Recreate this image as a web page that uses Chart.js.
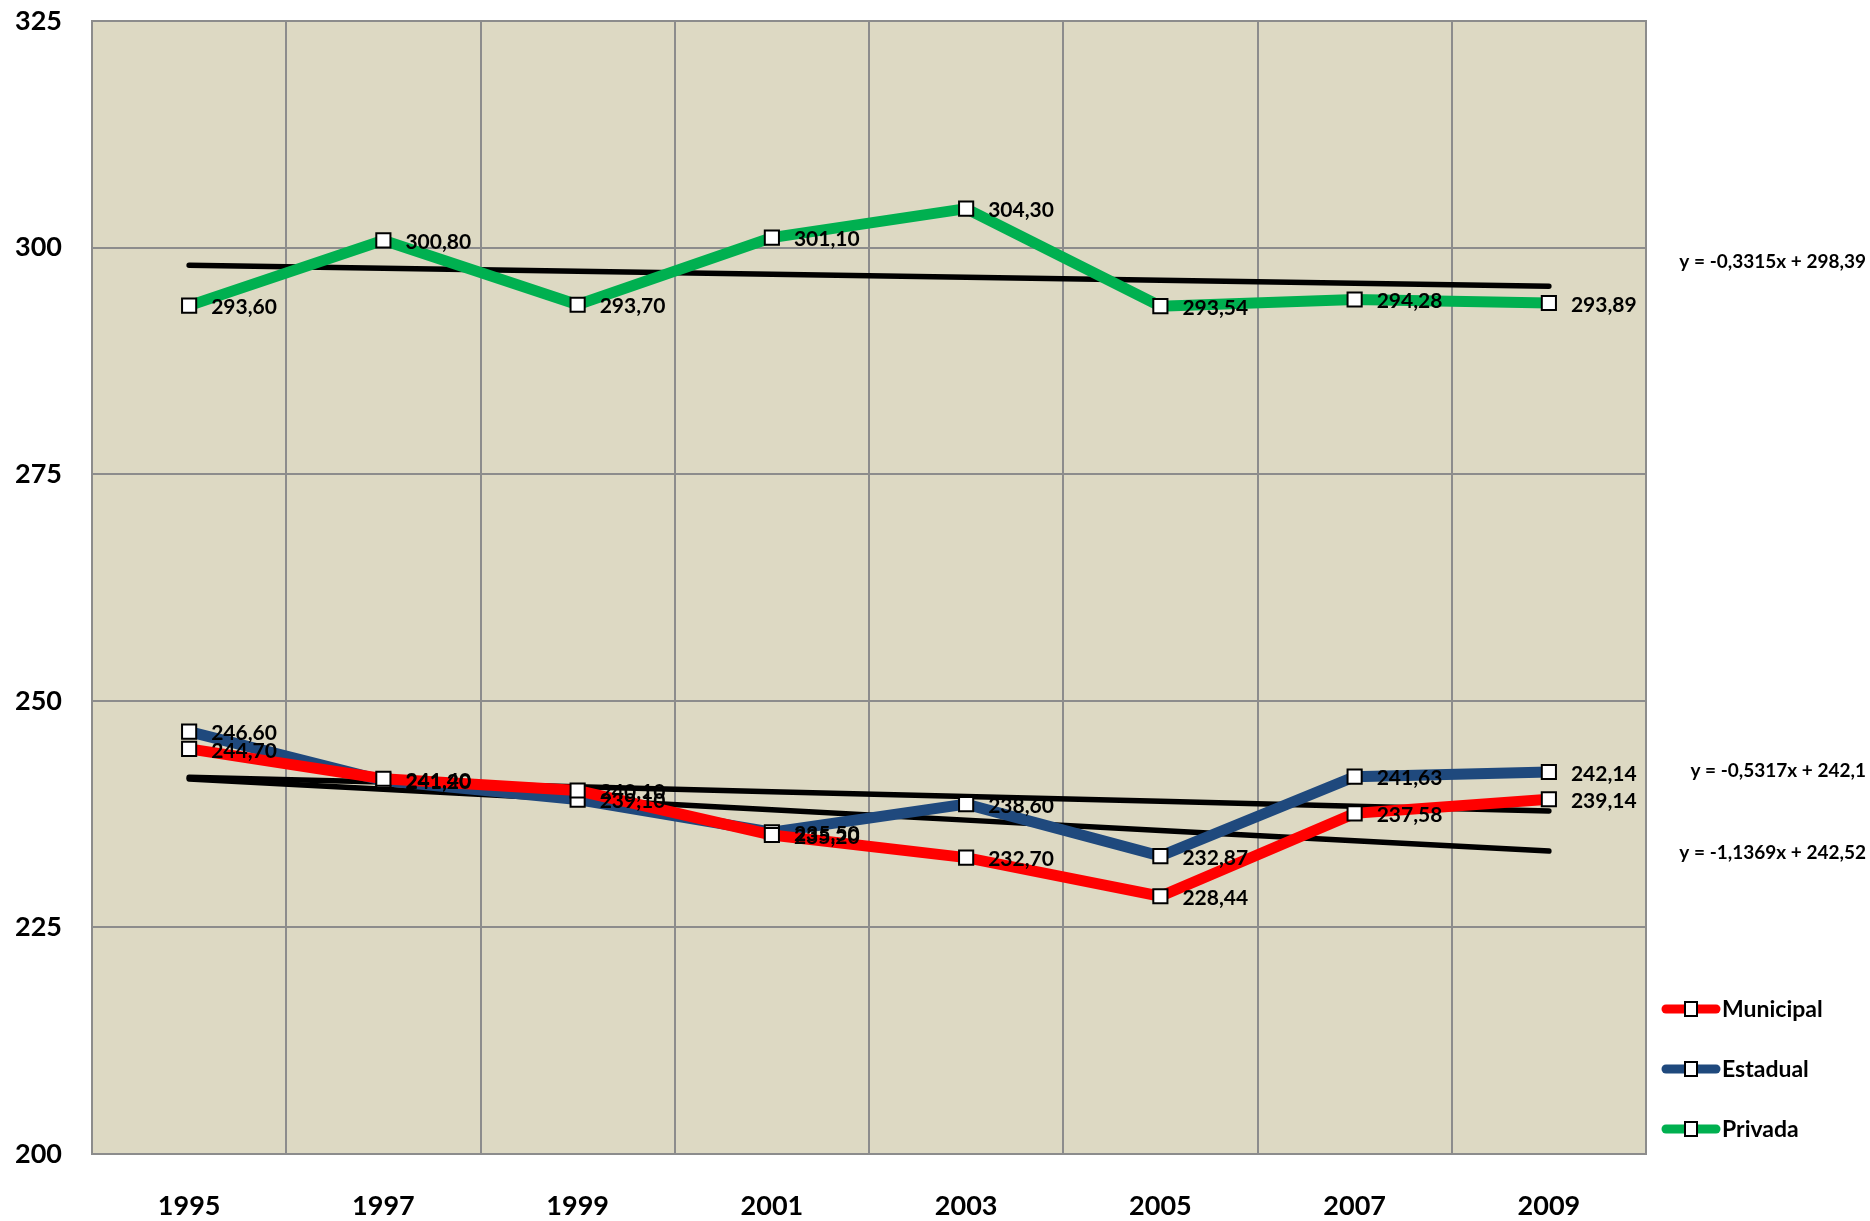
<!DOCTYPE html>
<html>
<head>
<meta charset="utf-8">
<script src="https://cdn.jsdelivr.net/npm/chart.js@4/dist/chart.umd.min.js"></script>
<style>
  html, body { margin: 0; padding: 0; background: #fff; }
  #wrap { width: 1870px; height: 1221px; position: relative; }
</style>
</head>
<body>
<div id="wrap"><canvas id="notasChart" width="1870" height="1221"></canvas></div>
<script>
const years = ['1995', '1997', '1999', '2001', '2003', '2005', '2007', '2009'];
const municipal = [244.70, 241.40, 240.10, 235.20, 232.70, 228.44, 237.58, 239.14];
const estadual = [246.60, 241.20, 239.10, 235.50, 238.60, 232.87, 241.63, 242.14];
const privada = [293.60, 300.80, 293.70, 301.10, 304.30, 293.54, 294.28, 293.89];
const seriesNames = ['Municipal', 'Estadual', 'Privada'];
const seriesColors = ['#ff0000', '#1f497d', '#00b050'];
// trendline equations as printed on the chart (x = 1..8)
const trendSlopes = [-1.1369, -0.5317, -0.3315];
const trendIntercepts = [242.52, 242.1, 298.39];
const trendTexts = ['y = -1,1369x + 242,52', 'y = -0,5317x + 242,1', 'y = -0,3315x + 298,39'];
const yTicks = [200, 225, 250, 275, 300, 325];

const FONT = 'Lato, "Open Sans", sans-serif';
const fmt = v => v.toFixed(2).replace('.', ',');

function trendValues(i) {
  return years.map((y, k) => trendIntercepts[i] + trendSlopes[i] * (k + 1));
}

const seriesData = [municipal, estadual, privada];

const pointOpts = {
  pointStyle: 'rect',
  pointRadius: 10,
  pointHoverRadius: 10,
  pointBackgroundColor: '#ffffff',
  pointBorderColor: '#000000',
  pointBorderWidth: 2
};

const datasets = seriesData.map((d, i) => Object.assign({
  label: seriesNames[i],
  data: d,
  borderColor: seriesColors[i],
  backgroundColor: seriesColors[i],
  borderWidth: 11,
  tension: 0,
  fill: false
}, pointOpts));

// trendlines drawn after the series
[0, 1, 2].forEach(i => {
  datasets.push({
    label: 'trend' + i,
    data: trendValues(i),
    borderColor: '#000000',
    borderWidth: 5.5,
    borderCapStyle: 'round',
    pointRadius: 0,
    pointHoverRadius: 0,
    fill: false
  });
});

const plotBg = {
  id: 'plotBg',
  beforeDraw(chart) {
    const { ctx, chartArea: a } = chart;
    ctx.save();
    ctx.fillStyle = '#ddd9c3';
    ctx.fillRect(a.left, a.top, a.right - a.left, a.bottom - a.top);
    ctx.restore();
  },
  afterDraw(chart) {
    const { ctx, chartArea: a } = chart;
    ctx.save();
    ctx.strokeStyle = '#8c8c8c';
    ctx.lineWidth = 2;
    ctx.strokeRect(a.left, a.top, a.right - a.left, a.bottom - a.top);
    ctx.restore();
  }
};

const dataLabels = {
  id: 'dataLabels',
  afterDatasetsDraw(chart) {
    const ctx = chart.ctx;
    ctx.save();
    ctx.font = 'bold 21px ' + FONT;
    ctx.fillStyle = '#000';
    ctx.textBaseline = 'middle';
    ctx.textAlign = 'left';
    [0, 1, 2].forEach(i => {
      const meta = chart.getDatasetMeta(i);
      meta.data.forEach((pt, k) => {
        ctx.fillText(fmt(seriesData[i][k]), pt.x + 22, pt.y + 2);
      });
    });
    ctx.restore();
  }
};

const sideTexts = {
  id: 'sideTexts',
  afterDraw(chart) {
    const ctx = chart.ctx;
    ctx.save();
    // trendline equations
    ctx.font = 'bold 19px ' + FONT;
    ctx.fillStyle = '#000';
    ctx.textAlign = 'right';
    ctx.textBaseline = 'middle';
    const eqY = [853, 771, 262];
    trendTexts.forEach((t, i) => ctx.fillText(t, 1866, eqY[i]));

    // legend
    const legY = [1009, 1069, 1129];
    seriesNames.forEach((n, i) => {
      const y = legY[i];
      ctx.strokeStyle = seriesColors[i];
      ctx.lineWidth = 9;
      ctx.lineCap = 'round';
      ctx.beginPath();
      ctx.moveTo(1666, y);
      ctx.lineTo(1716, y);
      ctx.stroke();
      ctx.fillStyle = '#fff';
      ctx.fillRect(1685, y - 7, 12, 14);
      ctx.strokeStyle = '#000';
      ctx.lineWidth = 2;
      ctx.strokeRect(1685, y - 7, 12, 14);
      ctx.fillStyle = '#000';
      ctx.font = 'bold 23px ' + FONT;
      ctx.textAlign = 'left';
      ctx.fillText(n, 1722, y + 1);
    });
    ctx.restore();
  }
};

new Chart(document.getElementById('notasChart').getContext('2d'), {
  type: 'line',
  data: { labels: years, datasets: datasets },
  options: {
    responsive: false,
    animation: false,
    layout: { padding: { top: 21, right: 224, left: 0, bottom: 0 } },
    plugins: {
      legend: { display: false },
      tooltip: { enabled: false }
    },
    scales: {
      x: {
        offset: true,
        grid: { offset: true, color: '#8c8c8c', lineWidth: 2, drawTicks: false },
        border: { display: false },
        ticks: {
          font: { family: FONT, size: 27, weight: 'bold' },
          color: '#000',
          padding: 36,
          maxRotation: 0
        },
        afterFit(scale) {
          scale.height = 67;
          scale.paddingLeft = 0;
          scale.paddingRight = 0;
        }
      },
      y: {
        min: 200,
        max: 325,
        afterBuildTicks(scale) { scale.ticks = yTicks.map(v => ({ value: v })); },
        grid: { color: '#8c8c8c', lineWidth: 2, drawTicks: false },
        border: { display: false },
        ticks: {
          font: { family: FONT, size: 27, weight: 'bold' },
          color: '#000',
          padding: 30
        },
        afterFit(scale) {
          scale.width = 92;
          scale.paddingTop = 0;
          scale.paddingBottom = 0;
        }
      }
    }
  },
  plugins: [plotBg, dataLabels, sideTexts]
});
</script>
</body>
</html>
